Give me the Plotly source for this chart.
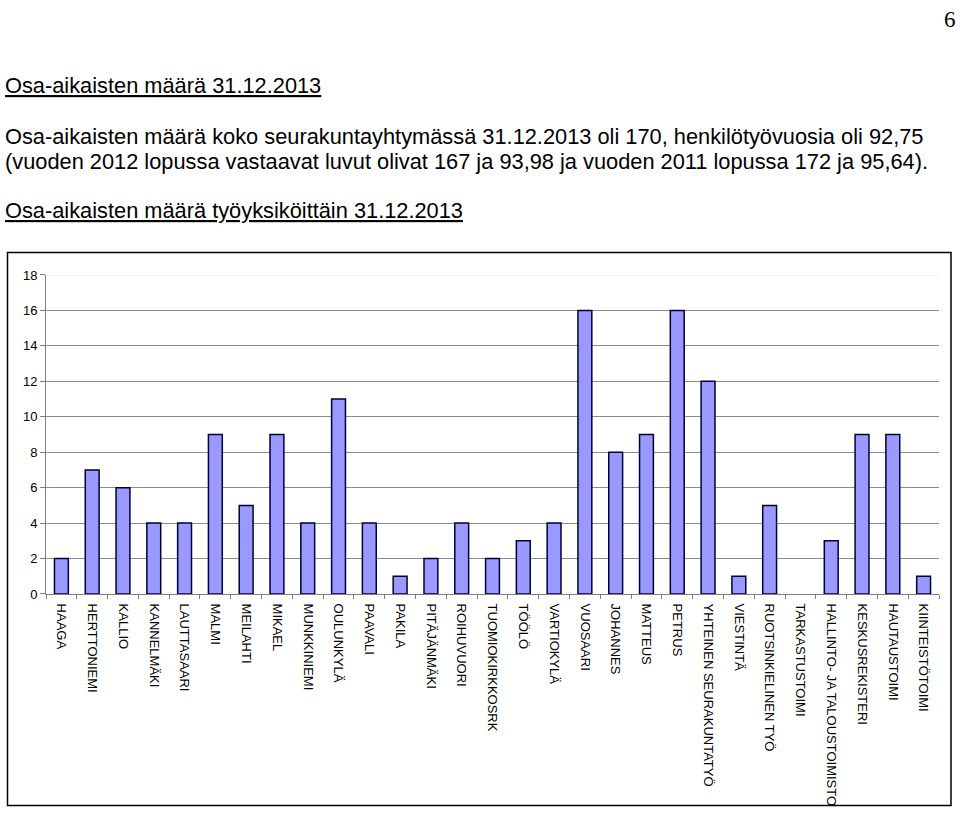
import plotly.graph_objects as go

categories = ["HAAGA", "HERTTONIEMI", "KALLIO", "KANNELMÄKI", "LAUTTASAARI", "MALMI",
              "MEILAHTI", "MIKAEL", "MUNKKINIEMI", "OULUNKYLÄ", "PAAVALI", "PAKILA",
              "PITÄJÄNMÄKI", "ROIHUVUORI", "TUOMIOKIRKKOSRK", "TÖÖLÖ", "VARTIOKYLÄ",
              "VUOSAARI", "JOHANNES", "MATTEUS", "PETRUS", "YHTEINEN SEURAKUNTATYÖ",
              "VIESTINTÄ", "RUOTSINKIELINEN TYÖ", "TARKASTUSTOIMI",
              "HALLINTO- JA TALOUSTOIMISTO", "KESKUSREKISTERI", "HAUTAUSTOIMI",
              "KIINTEISTÖTOIMI"]
values = [2, 7, 6, 4, 4, 9, 5, 9, 4, 11, 4, 1, 2, 4, 2, 3, 4, 16, 8, 9, 16, 12,
          1, 5, 0, 3, 9, 9, 1]
y_ticks = [0, 2, 4, 6, 8, 10, 12, 14, 16, 18]

W, H = 960, 815
def px(x):
    return x / W
def py(y):
    return (H - y) / H

outline_w = [1.5 if v > 0 else 0 for v in values]

fig = go.Figure()
fig.add_trace(go.Bar(
    x=categories, y=values,
    marker=dict(color="#9999FF", line=dict(color="#000033", width=outline_w)),
    width=0.45,
))

font = "Liberation Sans, Arial, sans-serif"
fig.update_layout(
    width=W, height=H,
    margin=dict(l=0, r=0, t=0, b=0),
    paper_bgcolor="white", plot_bgcolor="white",
    showlegend=False,
    font=dict(family=font, color="black"),
    xaxis=dict(
        domain=[px(46), px(939)],
        tickangle=90, tickfont=dict(size=13, family=font, color="black"),
        showline=True, linecolor="#808080", linewidth=1,
        ticks="outside", ticklen=4, tickcolor="#808080", tickson="boundaries",
        ticklabelstandoff=6,
        showgrid=False, range=[-0.5, len(categories) - 0.5],
    ),
    yaxis=dict(
        domain=[py(598), py(273)],
        range=[0, 18], tickvals=y_ticks,
        tickfont=dict(size=13, family=font, color="black"),
        showline=True, linecolor="#808080", linewidth=1,
        ticks="outside", ticklen=5, tickcolor="#808080",
        showgrid=True, gridcolor="#8c8c8c", gridwidth=1,
        zeroline=False,
    ),
)

# faint top gridline overlay
fig.add_shape(type="line", xref="x", yref="y", x0=-0.5, x1=len(categories) - 0.5,
              y0=18, y1=18, line=dict(color="#f2f2f2", width=2), layer="above")

# chart border box
fig.add_shape(type="rect", xref="paper", yref="paper",
              x0=px(7.5), x1=px(951), y0=py(813.5), y1=py(250),
              line=dict(color="black", width=1.5))

# page text
fig.add_annotation(text="6", xref="paper", yref="paper", x=px(958), y=py(13),
                   xanchor="right", yanchor="middle", showarrow=False,
                   font=dict(family="Liberation Serif, Times New Roman, serif", size=23))
lines = [
    ("<u>Osa-aikaisten määrä 31.12.2013</u>", 80),
    ("Osa-aikaisten määrä koko seurakuntayhtymässä 31.12.2013 oli 170, henkilötyövuosia oli 92,75", 132),
    ("(vuoden 2012 lopussa vastaavat luvut olivat 167 ja 93,98 ja vuoden 2011 lopussa 172 ja 95,64).", 157),
    ("<u>Osa-aikaisten määrä työyksiköittäin 31.12.2013</u>", 207),
]
for t, y in lines:
    fig.add_annotation(text=t, xref="paper", yref="paper", x=px(3), y=py(y),
                       xanchor="left", yanchor="middle", showarrow=False,
                       font=dict(family=font, size=21.8))

fig.write_html("out.html")
